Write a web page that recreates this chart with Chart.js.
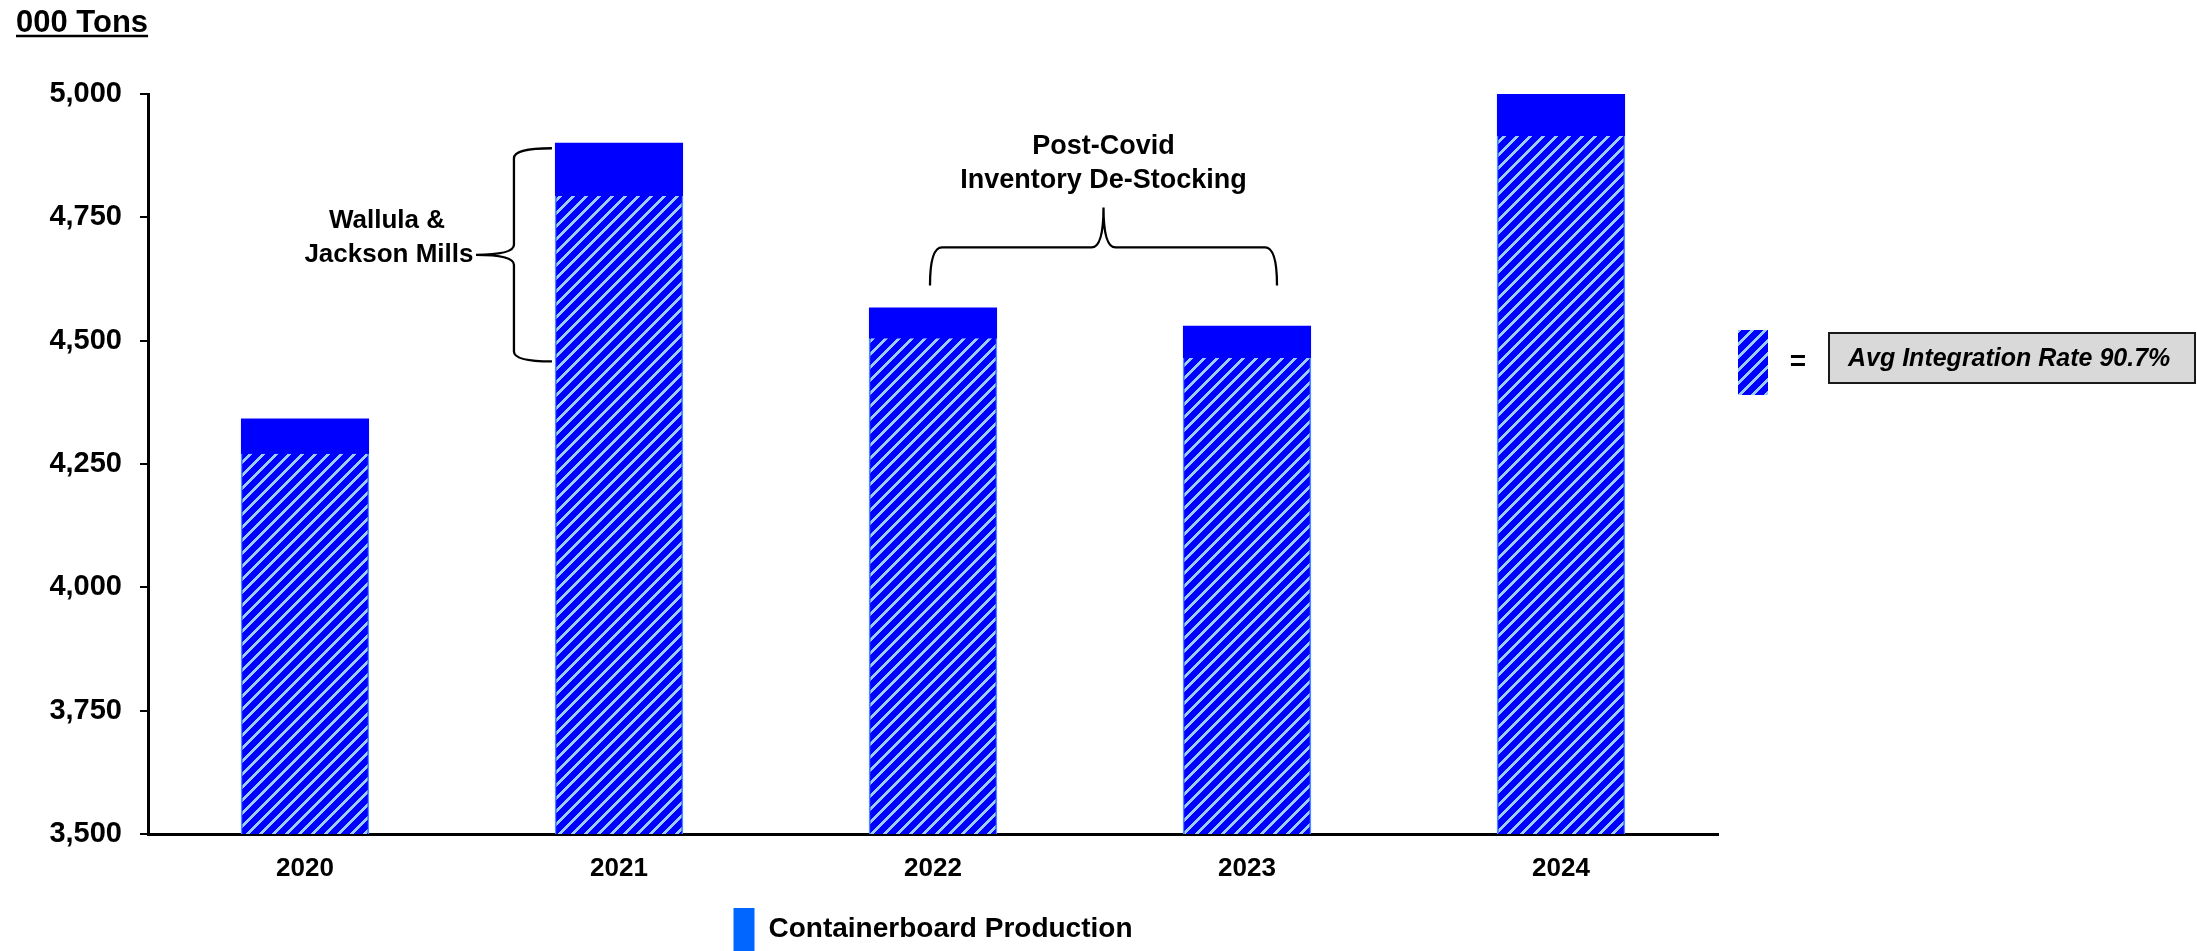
<!DOCTYPE html>
<html>
<head>
<meta charset="utf-8">
<script src="https://cdn.jsdelivr.net/npm/chart.js@4/dist/chart.umd.min.js"></script>
<style>
  html, body { margin: 0; padding: 0; background: #fff; }
  #wrap { width: 2197px; height: 951px; position: relative; }
</style>
</head>
<body>
<div id="wrap"><canvas id="prodChart"></canvas></div>
<script>
const FONT = '"Liberation Sans", Arial, sans-serif';

// data (000 tons)
const years = ['2020', '2021', '2022', '2023', '2024'];
const integrated = [4271, 4793, 4505, 4465, 4915];   // hatched part
const production = [4342, 4901, 4567, 4530, 5000];   // total bar height
const yTicks = [3500, 3750, 4000, 4250, 4500, 4750, 5000];

// hatch fill for integrated volume (crisp pixel stripes, "/" direction)
function makeHatch() {
  const n = 13;
  const c = document.createElement('canvas');
  c.width = n; c.height = n;
  const g = c.getContext('2d');
  const img = g.createImageData(n, n);
  for (let py = 0; py < n; py++) {
    for (let px = 0; px < n; px++) {
      const light = (px + py) % n < 4;
      const i = (py * n + px) * 4;
      img.data[i] = light ? 0x99 : 0x00;
      img.data[i + 1] = light ? 0xcc : 0x00;
      img.data[i + 2] = 0xff;
      img.data[i + 3] = 255;
    }
  }
  g.putImageData(img, 0, 0);
  return g.createPattern(c, 'repeat');
}
const hatch = makeHatch();

// curly braces
function braceV(ctx, xEnd, xSpine, xTip, yTop, yBot) {
  const yMid = (yTop + yBot) / 2, r = 10;
  ctx.beginPath();
  ctx.moveTo(xEnd, yTop);
  ctx.quadraticCurveTo(xSpine, yTop, xSpine, yTop + r);
  ctx.lineTo(xSpine, yMid - r);
  ctx.quadraticCurveTo(xSpine, yMid, xTip, yMid);
  ctx.quadraticCurveTo(xSpine, yMid, xSpine, yMid + r);
  ctx.lineTo(xSpine, yBot - r);
  ctx.quadraticCurveTo(xSpine, yBot, xEnd, yBot);
  ctx.stroke();
}
function braceH(ctx, x1, x2, yEnd, ySpine, yTip) {
  const xMid = (x1 + x2) / 2, r = 12;
  ctx.beginPath();
  ctx.moveTo(x1, yEnd);
  ctx.quadraticCurveTo(x1, ySpine, x1 + r, ySpine);
  ctx.lineTo(xMid - r, ySpine);
  ctx.quadraticCurveTo(xMid, ySpine, xMid, yTip);
  ctx.quadraticCurveTo(xMid, ySpine, xMid + r, ySpine);
  ctx.lineTo(x2 - r, ySpine);
  ctx.quadraticCurveTo(x2, ySpine, x2, yEnd);
  ctx.stroke();
}

const notes = {
  id: 'notes',
  afterDraw(chart) {
    const ctx = chart.ctx;
    const y = chart.scales.y;
    const bars = chart.getDatasetMeta(1).data;
    const area = chart.chartArea;
    ctx.save();
    ctx.fillStyle = '#000';
    ctx.strokeStyle = '#000';

    // unit title
    ctx.font = 'bold 31px ' + FONT;
    ctx.textAlign = 'left';
    ctx.textBaseline = 'alphabetic';
    ctx.fillText('000 Tons', 16, 32);
    const tw = ctx.measureText('000 Tons').width;
    ctx.lineWidth = 2.5;
    ctx.beginPath();
    ctx.moveTo(16, 36); ctx.lineTo(16 + tw, 36);
    ctx.stroke();

    // Wallula & Jackson brace
    const b1 = bars[1];
    const left1 = b1.x - b1.width / 2;
    ctx.lineWidth = 2.3;
    braceV(ctx, left1 - 3, left1 - 41, left1 - 79, y.getPixelForValue(4890), y.getPixelForValue(4458));
    ctx.font = 'bold 26px ' + FONT;
    ctx.textAlign = 'center';
    ctx.textBaseline = 'middle';
    ctx.fillText('Wallula &', left1 - 168, 221);
    ctx.fillText('Jackson Mills', left1 - 166, 255);

    // Post-Covid brace
    const x1 = bars[2].x - 3, x2 = bars[3].x + 30;
    const yEnd = y.getPixelForValue(4612);
    braceH(ctx, x1, x2, yEnd, yEnd - 38, yEnd - 78);
    ctx.font = 'bold 27px ' + FONT;
    ctx.fillText('Post-Covid', (x1 + x2) / 2, 147);
    ctx.fillText('Inventory De-Stocking', (x1 + x2) / 2, 181);

    // integration legend on the right
    const sx = area.right + 20;
    ctx.fillStyle = hatch;
    ctx.fillRect(sx, 330, 30, 65);
    ctx.fillStyle = '#000';
    ctx.font = 'bold 28px ' + FONT;
    ctx.fillText('=', sx + 60, 362);
    ctx.fillStyle = '#d9d9d9';
    ctx.fillRect(sx + 91, 333, 366, 50);
    ctx.strokeStyle = '#1a1a1a';
    ctx.lineWidth = 2;
    ctx.strokeRect(sx + 91, 333, 366, 50);
    ctx.fillStyle = '#000';
    ctx.font = 'italic bold 25px ' + FONT;
    ctx.textAlign = 'left';
    ctx.fillText('Avg Integration Rate 90.7%', sx + 110, 359);
    ctx.restore();
  }
};

new Chart(document.getElementById('prodChart'), {
  type: 'bar',
  data: {
    labels: years,
    datasets: [
      {
        label: 'Integrated',
        data: integrated,
        backgroundColor: hatch,
        borderColor: '#4d88ff',
        borderWidth: { left: 1.5, right: 1.5, top: 0, bottom: 0 },
        borderSkipped: false
      },
      {
        label: 'Containerboard Production',
        data: production,
        backgroundColor: '#0000ff',
        borderWidth: 0
      }
    ]
  },
  options: {
    responsive: true,
    maintainAspectRatio: false,
    animation: false,
    layout: { padding: { top: 94, right: 479, left: 0, bottom: -10 } },
    datasets: {
      bar: { grouped: false, categoryPercentage: 0.8, barPercentage: 0.51 }
    },
    plugins: {
      legend: {
        position: 'bottom',
        fullSize: false,
        labels: {
          boxWidth: 21,
          boxHeight: 43,
          padding: 0,
          color: '#000',
          font: { family: FONT, size: 28, weight: 'bold' },
          filter: item => item.datasetIndex === 1,
          generateLabels(chart) {
            const items = Chart.defaults.plugins.legend.labels.generateLabels(chart);
            items.forEach(it => { it.fillStyle = '#0066ff'; it.strokeStyle = '#0066ff'; it.lineWidth = 0; });
            return items;
          }
        }
      },
      tooltip: { enabled: false }
    },
    scales: {
      x: {
        grid: { display: false, drawTicks: false },
        border: { display: true, color: '#000', width: 3 },
        ticks: { color: '#000', padding: 19, font: { family: FONT, size: 26, weight: 'bold' } },
        afterFit(scale) { scale.height = 74; }
      },
      y: {
        min: 3500,
        max: 5000,
        afterBuildTicks(scale) { scale.ticks = yTicks.map(v => ({ value: v })); },
        grid: { drawOnChartArea: false, drawTicks: true, tickLength: 8, color: '#000', lineWidth: 2 },
        border: { display: true, color: '#000', width: 3 },
        ticks: {
          color: '#000',
          padding: 18,
          font: { family: FONT, size: 29, weight: 'bold' },
          callback: v => v.toLocaleString('en-US')
        },
        afterFit(scale) { scale.width = 148; }
      }
    }
  },
  plugins: [notes]
});
</script>
</body>
</html>
